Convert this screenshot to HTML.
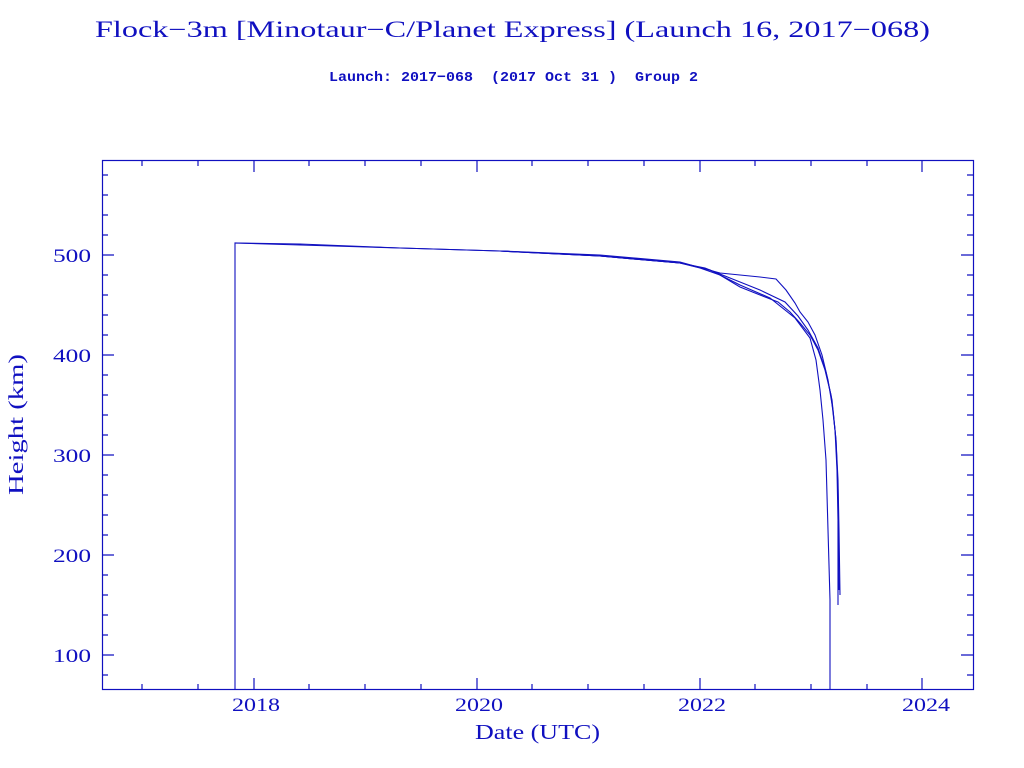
<!DOCTYPE html>
<html><head><style>body{margin:0;background:#fff}svg{display:block}</style></head><body>
<svg width="1024" height="768" xmlns="http://www.w3.org/2000/svg" font-family="'Liberation Serif',serif" fill="#1010c0">
<text x="95" y="37" font-size="23" textLength="835" lengthAdjust="spacingAndGlyphs">Flock−3m [Minotaur−C/Planet Express] (Launch 16, 2017−068)</text>
<text x="329" y="81" font-size="14" font-family="'Liberation Mono',monospace" font-weight="bold" textLength="369" lengthAdjust="spacingAndGlyphs">Launch: 2017−068&#160; (2017 Oct 31 )&#160; Group 2</text>
<g stroke="#1010c0" stroke-width="1.2" fill="none">
<rect x="102.5" y="160.5" width="871" height="529"/>
<path d="M102 655h12M102 555h12M102 455h12M102 355h12M102 255h12M973 655h-12M973 555h-12M973 455h-12M973 355h-12M973 255h-12
M102 675h6M102 635h6M102 615h6M102 595h6M102 575h6M102 535h6M102 515h6M102 495h6M102 475h6M102 435h6M102 415h6M102 395h6M102 375h6M102 335h6M102 315h6M102 295h6M102 275h6M102 235h6M102 215h6M102 195h6M102 175h6
M973 675h-6M973 635h-6M973 615h-6M973 595h-6M973 575h-6M973 535h-6M973 515h-6M973 495h-6M973 475h-6M973 435h-6M973 415h-6M973 395h-6M973 375h-6M973 335h-6M973 315h-6M973 295h-6M973 275h-6M973 235h-6M973 215h-6M973 195h-6M973 175h-6
M254 690v-12M477 690v-12M700 690v-12M922 690v-12M254 160v12M477 160v12M700 160v12M922 160v12
M142 690v-6M198 690v-6M309 690v-6M365 690v-6M421 690v-6M532 690v-6M588 690v-6M644 690v-6M755 690v-6M811 690v-6M867 690v-6
M142 160v6M198 160v6M309 160v6M365 160v6M421 160v6M532 160v6M588 160v6M644 160v6M755 160v6M811 160v6M867 160v6"/>
</g>
<g stroke="#1010c0" stroke-width="1.1" fill="none">
<polyline points="235,690 235,243 300,245 400,248 500,251 600,256 680,263 700,268 720,275 740,287 760,295 778,302 790,312 800,323 810,335 818,350 825,370 831,395 835,430 837,470 838,520 838,605"/>
<polyline points="235,243 300,244 400,248 500,251 600,256 680,263 705,268 730,278 760,290 785,302 798,316 808,330 818,348 826,372 832,400 836,440 838,490 839,590"/>
<polyline points="500,251 600,255 680,262 720,273 760,277 776,279 786,290 795,303 800,312 808,322 815,335 822,355 828,380 833,410 836,440 838,480 839,530 840,595"/>
<polyline points="500,251 600,256 680,263 710,270 740,285 770,298 795,318 810,338 816,360 820,390 823,420 826,460 828,530 830,600 830,690"/>
</g>
<g font-size="19">
<text x="232" y="711" textLength="48" lengthAdjust="spacingAndGlyphs">2018</text><text x="455" y="711" textLength="48" lengthAdjust="spacingAndGlyphs">2020</text><text x="678" y="711" textLength="48" lengthAdjust="spacingAndGlyphs">2022</text><text x="902" y="711" textLength="48" lengthAdjust="spacingAndGlyphs">2024</text>
<text x="53" y="662" textLength="38" lengthAdjust="spacingAndGlyphs">100</text><text x="53" y="562" textLength="38" lengthAdjust="spacingAndGlyphs">200</text><text x="53" y="462" textLength="38" lengthAdjust="spacingAndGlyphs">300</text><text x="53" y="362" textLength="38" lengthAdjust="spacingAndGlyphs">400</text><text x="53" y="262" textLength="38" lengthAdjust="spacingAndGlyphs">500</text>
</g>
<text x="475" y="739" font-size="21" textLength="125" lengthAdjust="spacingAndGlyphs">Date (UTC)</text>
<text transform="translate(23,495) rotate(-90)" font-size="21" textLength="141" lengthAdjust="spacingAndGlyphs">Height (km)</text>
</svg>
</body></html>
